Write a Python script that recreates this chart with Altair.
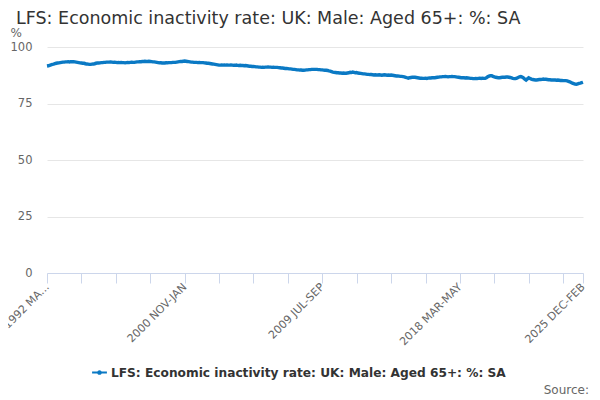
import altair as alt
import pandas as pd

series_name = "LFS: Economic inactivity rate: UK: Male: Aged 65+: %: SA"
title_text = "LFS: Economic inactivity rate: UK: Male: Aged 65+: %: SA"

# rolling-quarter values, 1992 MAR-MAY ... 2025 DEC-FEB (one row per calendar year of start month)
v1992 = [91.6, 91.7, 91.9, 92.1, 92.3, 92.4, 92.6, 92.8, 92.9, 93.0]
v1993 = [93.1, 93.2, 93.3, 93.3, 93.4, 93.4, 93.5, 93.4, 93.5, 93.5, 93.5, 93.4]
v1994 = [93.3, 93.2, 93.1, 93.0, 92.9, 92.8, 92.8, 92.6, 92.5, 92.4, 92.3, 92.3]
v1995 = [92.4, 92.5, 92.6, 92.8, 92.9, 92.9, 93.0, 93.1, 93.1, 93.2, 93.2, 93.3]
v1996 = [93.3, 93.3, 93.4, 93.3, 93.2, 93.3, 93.2, 93.1, 93.2, 93.1, 93.2, 93.1]
v1997 = [93.1, 93.0, 93.1, 93.2, 93.1, 93.2, 93.3, 93.2, 93.2, 93.3, 93.4, 93.4]
v1998 = [93.5, 93.5, 93.6, 93.6, 93.7, 93.6, 93.6, 93.7, 93.6, 93.5, 93.4, 93.4]
v1999 = [93.3, 93.2, 93.1, 93.0, 93.0, 92.9, 92.9, 92.9, 93.0, 93.0, 93.1, 93.1]
v2000 = [93.1, 93.2, 93.2, 93.2, 93.3, 93.4, 93.5, 93.6, 93.6, 93.7, 93.8, 93.7]
v2001 = [93.6, 93.5, 93.4, 93.3, 93.3, 93.2, 93.2, 93.2, 93.1, 93.2, 93.1, 93.1]
v2002 = [93.1, 93.0, 92.9, 92.8, 92.8, 92.7, 92.6, 92.5, 92.4, 92.3, 92.2, 92.1]
v2003 = [92.0, 92.0, 92.1, 92.0, 92.1, 92.0, 92.1, 92.0, 92.0, 92.1, 92.0, 91.9]
v2004 = [91.9, 92.0, 91.9, 91.8, 91.9, 91.8, 91.8, 91.7, 91.8, 91.7, 91.6, 91.5]
v2005 = [91.5, 91.4, 91.4, 91.3, 91.2, 91.2, 91.1, 91.1, 91.0, 91.1, 91.0, 91.1]
v2006 = [91.1, 91.2, 91.1, 91.1, 91.0, 91.1, 91.0, 91.0, 91.0, 90.9, 90.8, 90.7]
v2007 = [90.7, 90.6, 90.5, 90.5, 90.4, 90.3, 90.3, 90.2, 90.1, 90.1, 90.0, 89.9]
v2008 = [89.9, 89.8, 89.8, 89.7, 89.7, 89.8, 89.9, 89.9, 90.0, 90.0, 90.1, 90.1]
v2009 = [90.1, 90.1, 90.1, 90.0, 90.0, 89.9, 89.9, 89.8, 89.7, 89.7, 89.6, 89.4]
v2010 = [89.3, 89.1, 88.9, 88.8, 88.7, 88.6, 88.6, 88.5, 88.5, 88.4, 88.5, 88.4]
v2011 = [88.4, 88.5, 88.6, 88.8, 88.7, 88.9, 88.8, 88.6, 88.7, 88.5, 88.4, 88.3]
v2012 = [88.2, 88.1, 88.1, 88.0, 87.9, 87.9, 87.8, 87.8, 87.7, 87.6, 87.7, 87.6]
v2013 = [87.6, 87.7, 87.6, 87.5, 87.6, 87.7, 87.6, 87.5, 87.6, 87.5, 87.6, 87.5]
v2014 = [87.4, 87.3, 87.2, 87.2, 87.1, 87.0, 87.0, 86.9, 86.8, 86.6, 86.4, 86.2]
v2015 = [86.4, 86.5, 86.6, 86.6, 86.6, 86.5, 86.4, 86.3, 86.2, 86.2, 86.1, 86.1]
v2016 = [86.2, 86.1, 86.2, 86.3, 86.3, 86.4, 86.4, 86.4, 86.5, 86.6, 86.7, 86.8]
v2017 = [86.8, 86.9, 86.9, 87.0, 86.9, 86.8, 86.9, 86.9, 87.0, 86.9, 86.9, 86.8]
v2018 = [86.7, 86.6, 86.5, 86.4, 86.4, 86.4, 86.3, 86.4, 86.3, 86.2, 86.1, 86.1]
v2019 = [86.0, 86.0, 86.1, 86.0, 86.1, 86.2, 86.1, 86.2, 86.1, 86.1, 86.4, 86.8]
v2020 = [87.1, 87.3, 87.3, 87.0, 86.8, 86.6, 86.5, 86.4, 86.4, 86.5, 86.6, 86.6]
v2021 = [86.6, 86.7, 86.7, 86.6, 86.5, 86.3, 86.1, 86.0, 86.0, 86.2, 86.5, 86.8]
v2022 = [86.9, 86.7, 86.3, 85.8, 85.4, 85.9, 86.4, 86.1, 85.8, 85.6, 85.5, 85.4]
v2023 = [85.4, 85.5, 85.6, 85.6, 85.7, 85.8, 85.7, 85.7, 85.6, 85.5, 85.5, 85.4]
v2024 = [85.4, 85.4, 85.4, 85.3, 85.4, 85.3, 85.2, 85.2, 85.1, 85.1, 85.1, 85.0]
v2025 = [84.8, 84.6, 84.3, 84.0, 83.8, 83.6, 83.5, 83.7, 83.9, 84.0, 84.2, 84.4]

rows = [v1992, v1993, v1994, v1995, v1996, v1997, v1998, v1999, v2000, v2001,
        v2002, v2003, v2004, v2005, v2006, v2007, v2008, v2009, v2010, v2011,
        v2012, v2013, v2014, v2015, v2016, v2017, v2018, v2019, v2020, v2021,
        v2022, v2023, v2024, v2025]
values = [v for r in rows for v in r]

tick_positions = [0, 104, 208, 312, 405]
tick_labels = ["1992 MA...", "2000 NOV-JAN", "2009 JUL-SEP", "2018 MAR-MAY", "2025 DEC-FEB"]
minor_ticks = list(range(0, 391, 26)) + [405]
y_ticks = [0, 25, 50, 75, 100]

df = pd.DataFrame({"idx": list(range(len(values))), "value": values, "series": series_name})

label_expr = "''"
for p, l in reversed(list(zip(tick_positions, tick_labels))):
    label_expr = f"datum.value == {p} ? '{l}' : ({label_expr})"

FONT = "DejaVu Sans"
LINE_COLOR = "#0a79c4"

legend_symbol = ("M-1,-0.12 L1,-0.12 L1,0.12 L-1,0.12 Z "
                 "M-0.32,0 A0.32,0.32 0 1,1 0.32,0 A0.32,0.32 0 1,1 -0.32,0 Z")

line = alt.Chart(df).mark_line(strokeWidth=3.4, interpolate="linear").encode(
    x=alt.X("idx:Q", scale=alt.Scale(domain=[0, len(values) - 1], nice=False, zero=False),
            axis=alt.Axis(values=minor_ticks, labelExpr=label_expr, labelAngle=-45,
                          labelAlign="right", labelBaseline="middle", labelFontSize=11,
                          labelColor="#666666", labelFont=FONT, tickSize=10, tickColor="#ccd6eb",
                          domainColor="#ccd6eb", grid=False, title=None, labelPadding=2,
                          labelOverlap=False, labelFlush=False)),
    y=alt.Y("value:Q", scale=alt.Scale(domain=[0, 100], nice=False),
            axis=alt.Axis(values=y_ticks, title="%", titleAngle=0, titleX=-37, titleY=-11,
                          titleAlign="left", titleBaseline="alphabetic",
                          titleFontWeight="normal", titleFontSize=12,
                          titleColor="#666666", titleFont=FONT,
                          labelColor="#666666", labelFontSize=11.5, labelFont=FONT,
                          domain=False, ticks=False, labelPadding=15,
                          gridColor="#e6e6e6", gridWidth=1)),
    color=alt.Color("series:N", scale=alt.Scale(range=[LINE_COLOR]),
                    legend=alt.Legend(title=None, orient="none", legendX=45, legendY=318,
                                      symbolType=legend_symbol, symbolSize=220,
                                      symbolStrokeWidth=0, symbolFillColor=LINE_COLOR,
                                      labelFont=FONT, labelFontSize=12.2, labelFontWeight="bold",
                                      labelColor="#333333", labelLimit=0)),
)

source = alt.Chart(pd.DataFrame({"t": ["Source:"]})).mark_text(
    align="right", baseline="middle", font=FONT, fontSize=12, color="#666666"
).encode(x=alt.value(542), y=alt.value(343), text="t:N")

title = alt.Chart(pd.DataFrame({"t": [title_text]})).mark_text(
    align="left", baseline="alphabetic", font=FONT, fontSize=17.5, color="#333333"
).encode(x=alt.value(-31), y=alt.value(-23), text="t:N")

chart = alt.layer(line, source, title).properties(
    width=536, height=226,
    padding={"left": 39, "top": 39, "right": 9, "bottom": 125},
    autosize="none",
).configure_view(stroke=None)

chart.save("out.html", embed_options={"renderer": "svg", "actions": False})
